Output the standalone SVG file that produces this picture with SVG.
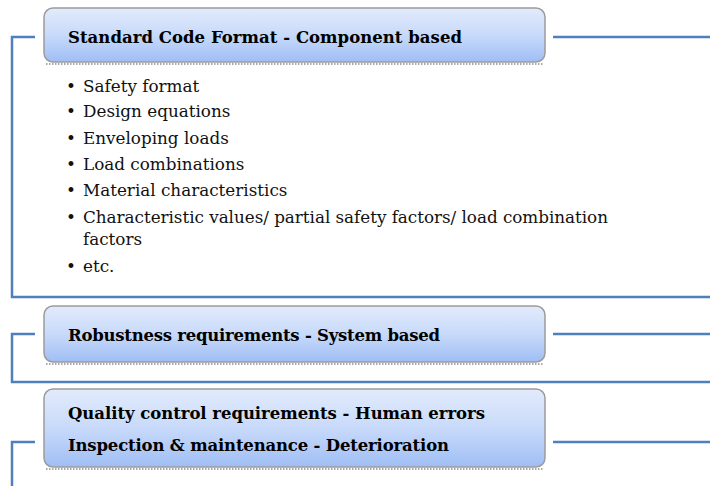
<svg xmlns="http://www.w3.org/2000/svg" width="710" height="486" viewBox="0 0 710 486">
<defs>
<linearGradient id="boxg" x1="0" y1="0" x2="0" y2="1">
<stop offset="0" stop-color="#e2ebfc"/>
<stop offset="0.5" stop-color="#c8dafa"/>
<stop offset="1" stop-color="#9fbef5"/>
</linearGradient>
<style>
.frame{fill:none;stroke:#4f7fbd;stroke-width:2.5}
.box{fill:url(#boxg);stroke:#9c9c9c;stroke-width:1.5}
.shadow{fill:none;stroke:#8c8c8c;stroke-width:1.5;stroke-dasharray:1.5 1.5}
.head{font-family:'DejaVu Serif','Liberation Serif',serif;font-weight:bold;font-size:16.5px;fill:#000}
.item{font-family:'DejaVu Serif','Liberation Serif',serif;font-size:16.8px;fill:#111}
</style>
</defs>
<g id="connectors">
<path class="frame" d="M35 37 H12 V297 H710"/>
<path class="frame" d="M553 37 H710"/>
<path class="frame" d="M35 334 H12 V382 H710"/>
<path class="frame" d="M553 334 H710"/>
<path class="frame" d="M35 442 H12 V486"/>
<path class="frame" d="M553 442 H710"/>
</g>
<g id="node-standard">
<path class="shadow" d="M46 64 H543"/>
<rect class="box" x="44" y="8" width="501" height="54" rx="9"/>
<text class="head" x="68" y="43" textLength="394" lengthAdjust="spacing">Standard Code Format - Component based</text>
</g>
<g id="node-list">
<text class="item" x="66" y="92">•</text><text class="item" x="83" y="92">Safety format</text>
<text class="item" x="66" y="117">•</text><text class="item" x="83" y="117">Design equations</text>
<text class="item" x="66" y="144">•</text><text class="item" x="83" y="144">Enveloping loads</text>
<text class="item" x="66" y="170">•</text><text class="item" x="83" y="170">Load combinations</text>
<text class="item" x="66" y="196">•</text><text class="item" x="83" y="196">Material characteristics</text>
<text class="item" x="66" y="223">•</text><text class="item" x="83" y="223" textLength="525" lengthAdjust="spacing">Characteristic values/ partial safety factors/ load combination</text>
<text class="item" x="83" y="245">factors</text>
<text class="item" x="66" y="272">•</text><text class="item" x="83" y="272">etc.</text>
</g>
<g id="node-robustness">
<path class="shadow" d="M46 364 H543"/>
<rect class="box" x="44" y="306" width="501" height="56" rx="9"/>
<text class="head" x="68" y="341" textLength="372" lengthAdjust="spacing">Robustness requirements - System based</text>
</g>
<g id="node-quality">
<path class="shadow" d="M46 469 H543"/>
<rect class="box" x="44" y="389" width="501" height="78" rx="9"/>
<text class="head" x="68" y="419" textLength="417" lengthAdjust="spacing">Quality control requirements - Human errors</text>
<text class="head" x="68" y="451" textLength="381" lengthAdjust="spacing">Inspection &amp; maintenance - Deterioration</text>
</g>
</svg>
